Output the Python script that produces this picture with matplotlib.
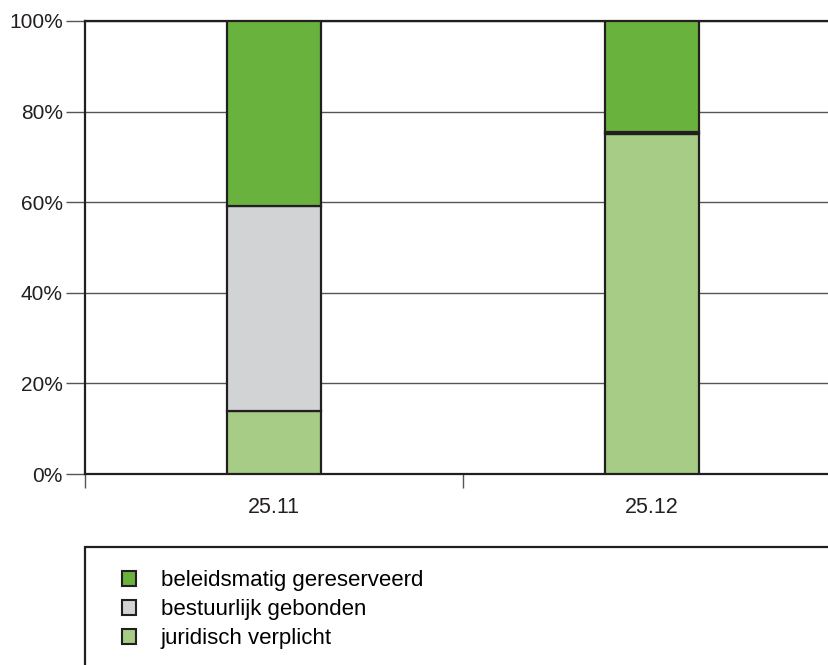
import matplotlib
matplotlib.use("Agg")
import matplotlib.pyplot as plt
from matplotlib.patches import Rectangle, Patch
import numpy as np

plt.rcParams['font.family'] = ['Liberation Sans', 'DejaVu Sans']

categories = ["25.11", "25.12"]
juridisch = [13.9, 75.0]
bestuurlijk = [45.3, 0.4]
beleidsmatig = [40.8, 24.6]
labels = ["beleidsmatig gereserveerd", "bestuurlijk gebonden", "juridisch verplicht"]
yticks = [0, 20, 40, 60, 80, 100]

c_bel = "#6ab23e"
c_bes = "#d1d3d5"
c_jur = "#a6cc85"
edge = "#231f20"

W, H = 829, 665
fig = plt.figure(figsize=(W / 100, H / 100), dpi=100)
ax = fig.add_axes([85 / W, 1 - 474 / H, 756 / W, 453 / H])

x = np.arange(len(categories)) + 0.5
bw = 0.25
lw = 1.6
ax.bar(x, juridisch, bw, color=c_jur, edgecolor=edge, linewidth=lw, zorder=3)
ax.bar(x, bestuurlijk, bw, bottom=juridisch, color=c_bes, edgecolor=edge, linewidth=lw, zorder=3)
bot = np.array(juridisch) + np.array(bestuurlijk)
ax.bar(x, beleidsmatig, bw, bottom=bot, color=c_bel, edgecolor=edge, linewidth=lw, zorder=3)

ax.set_xlim(0, 2)
ax.set_ylim(0, 100)
ax.set_yticks(yticks)
ax.set_yticklabels([f"{v}%" for v in yticks], fontsize=15, color="#231f20")
ax.set_xticks([0, 1, 2])
ax.set_xticklabels([])
for xi, c in zip(x, categories):
    ax.text(xi, -5, c, ha="center", va="top", fontsize=15.5, color="#231f20")
ax.tick_params(axis="y", length=14, width=1, color="#555555", pad=2)
ax.tick_params(axis="x", length=10, width=1, color="#555555")
ax.grid(axis="y", color="#555555", linewidth=1, zorder=0)
for s in ["left", "bottom", "top"]:
    ax.spines[s].set_linewidth(1.6)
    ax.spines[s].set_color(edge)
ax.spines["right"].set_visible(False)

# legend box, cut by the figure edge like the original
fig.patches.append(Rectangle((85 / W, -0.1), 1.0, 0.1 + (1 - 547 / H),
                             transform=fig.transFigure, fill=False,
                             edgecolor=edge, linewidth=1.6, clip_on=False))
handles = [Patch(facecolor=c, edgecolor=edge, linewidth=1.5) for c in [c_bel, c_bes, c_jur]]
fig.legend(handles, labels, loc="upper left", bbox_to_anchor=(113 / W, 1 - 561 / H),
           frameon=False, fontsize=16, handlelength=0.65, handleheight=0.65,
           handletextpad=1.1, labelspacing=0.36, borderaxespad=0)

fig.savefig("out.png", dpi=100)
